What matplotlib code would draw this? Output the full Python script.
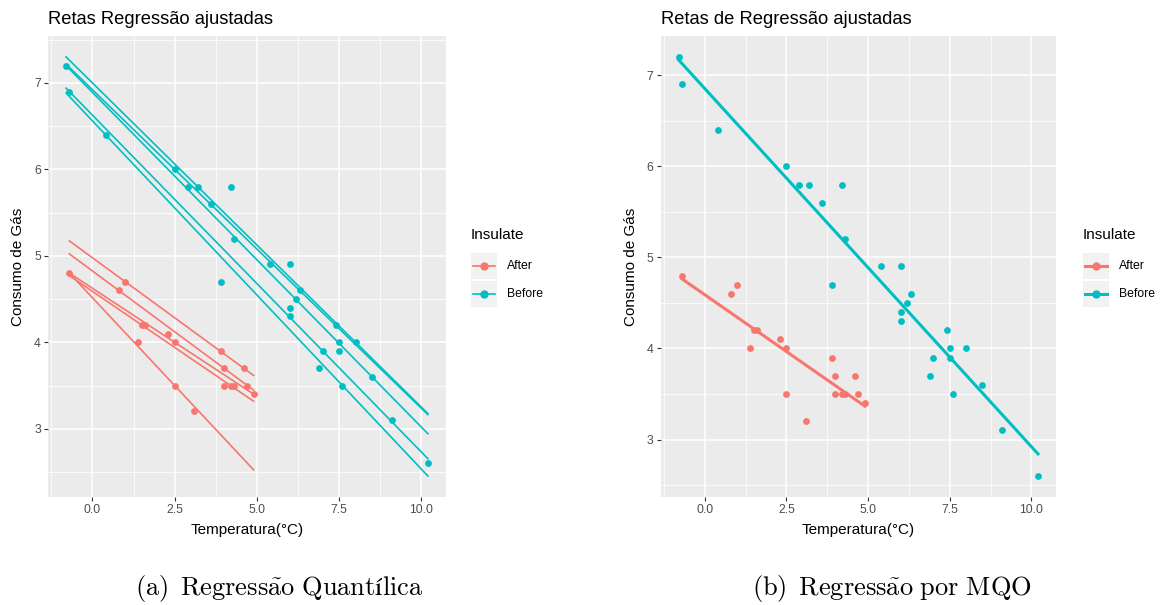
import numpy as np
import matplotlib
matplotlib.use("Agg")
import matplotlib.pyplot as plt
from matplotlib.lines import Line2D
from matplotlib.patches import Rectangle
from matplotlib.ticker import MultipleLocator, FormatStrFormatter

plt.rcParams['font.family'] = ['Liberation Sans', 'DejaVu Sans']
plt.rcParams['mathtext.fontset'] = 'cm'

# whiteside subset (temperature x gas consumption)
before_temp = [-0.8, -0.7, 0.4, 2.5, 2.9, 3.2, 3.6, 3.9, 4.2, 4.3, 5.4, 6.0, 6.0, 6.0,
               6.2, 6.3, 6.9, 7.0, 7.4, 7.5, 7.5, 7.6, 8.0, 8.5, 9.1, 10.2]
before_gas = [7.2, 6.9, 6.4, 6.0, 5.8, 5.8, 5.6, 4.7, 5.8, 5.2, 4.9, 4.9, 4.3, 4.4,
              4.5, 4.6, 3.7, 3.9, 4.2, 4.0, 3.9, 3.5, 4.0, 3.6, 3.1, 2.6]
after_temp = [-0.7, 0.8, 1.0, 1.4, 1.5, 1.6, 2.3, 2.5, 2.5, 3.1, 3.9, 4.0, 4.0, 4.2,
              4.3, 4.6, 4.7, 4.9]
after_gas = [4.8, 4.6, 4.7, 4.0, 4.2, 4.2, 4.1, 4.0, 3.5, 3.2, 3.9, 3.5, 3.7, 3.5,
             3.5, 3.7, 3.5, 3.4]

groups = ["After", "Before"]
colors = {"After": "#F8766D", "Before": "#00BFC4"}
taus = [0.1, 0.25, 0.5, 0.75, 0.9]

data = {"After": (np.array(after_temp), np.array(after_gas)),
        "Before": (np.array(before_temp), np.array(before_gas))}

W, H = 1170, 605


def qr_fit(x, y, tau):
    # brute force L1 quantile fit: optimum passes through two data points
    best = None
    n = len(x)
    for i in range(n):
        for j in range(i + 1, n):
            if x[i] == x[j]:
                continue
            b = (y[j] - y[i]) / (x[j] - x[i])
            a = y[i] - b * x[i]
            r = y - a - b * x
            loss = np.sum(np.where(r >= 0, tau * r, (tau - 1) * r))
            if best is None or loss < best[0] - 1e-10:
                best = (loss, a, b)
    return best[1], best[2]


def style(ax, title):
    ax.set_facecolor('#EBEBEB')
    for s in ax.spines.values():
        s.set_visible(False)
    ax.xaxis.set_major_locator(MultipleLocator(2.5))
    ax.xaxis.set_minor_locator(MultipleLocator(2.5, offset=1.25))
    ax.xaxis.set_major_formatter(FormatStrFormatter('%.1f'))
    ax.yaxis.set_major_locator(MultipleLocator(1))
    ax.yaxis.set_minor_locator(MultipleLocator(1, offset=0.5))
    ax.yaxis.set_major_formatter(FormatStrFormatter('%d'))
    ax.grid(which='minor', color='white', lw=0.55)
    ax.grid(which='major', color='white', lw=1.1)
    ax.set_axisbelow(True)
    ax.tick_params(which='minor', length=0)
    ax.tick_params(which='major', length=2.6, width=0.8, color='#333333',
                   labelcolor='#4D4D4D', labelsize=8.8, pad=2.5)
    ax.set_title(title, loc='left', fontsize=13.2, pad=8.5)
    ax.set_xlabel('Temperatura(°C)', fontsize=11)
    ax.set_ylabel('Consumo de Gás', fontsize=11)
    ax.xaxis.set_label_coords(0.5, -0.072)
    ax.xaxis.label.set_va('center')
    ax.yaxis.set_label_coords(-0.075, 0.5)
    ax.yaxis.label.set_va('center')


def legend(fig, x0, line_w):
    fig.text(x0 / W, 1 - 235 / H, 'Insulate', fontsize=11, va='center', ha='left')
    for k, g in enumerate(groups):
        yc = 266 + 28 * k
        fig.add_artist(Rectangle((x0 / W, 1 - (yc + 13) / H), 26 / W, 26 / H,
                                 transform=fig.transFigure, facecolor='#F2F2F2',
                                 edgecolor='none'))
        fig.add_artist(Line2D([(x0 + 2) / W, (x0 + 24) / W], [1 - yc / H] * 2,
                              transform=fig.transFigure, color=colors[g], lw=line_w))
        fig.add_artist(Line2D([(x0 + 13) / W], [1 - yc / H], transform=fig.transFigure,
                              marker='o', ms=5, color=colors[g], linestyle='none'))
        fig.text((x0 + 36) / W, 1 - yc / H, g, fontsize=8.8, va='center', ha='left')


fig = plt.figure(figsize=(W / 100, H / 100), dpi=100)
ax1 = fig.add_axes([48 / W, 108 / H, 398 / W, 461 / H])
ax2 = fig.add_axes([660.6 / W, 108 / H, 395.4 / W, 461 / H])

# (a) quantile regression lines
for g in groups:
    x, y = data[g]
    ax1.scatter(x, y, s=24, color=colors[g], linewidths=0, zorder=2)
    xs = np.array([x.min(), x.max()])
    for tau in taus:
        a, b = qr_fit(x, y, tau)
        ax1.plot(xs, a + b * xs, color=colors[g], lw=1.2, zorder=3)
style(ax1, 'Retas Regressão ajustadas')

# (b) OLS lines
for g in groups:
    x, y = data[g]
    ax2.scatter(x, y, s=24, color=colors[g], linewidths=0, zorder=2)
    b, a = np.polyfit(x, y, 1)
    xs = np.array([x.min(), x.max()])
    ax2.plot(xs, a + b * xs, color=colors[g], lw=2.2, zorder=3)
style(ax2, 'Retas de Regressão ajustadas')

legend(fig, 471, 1.2)
legend(fig, 1083, 2.2)

fig.text(279 / W, 1 - 588 / H, r'$\mathrm{(a)\ \,Regress\tilde{a}o\ Quantílica}$',
         fontsize=19, ha='center', va='center')
fig.text(892 / W, 1 - 588 / H, r'$\mathrm{(b)\ \,Regress\tilde{a}o\ por\ MQO}$',
         fontsize=19, ha='center', va='center')

fig.savefig('out.png', dpi=100)
